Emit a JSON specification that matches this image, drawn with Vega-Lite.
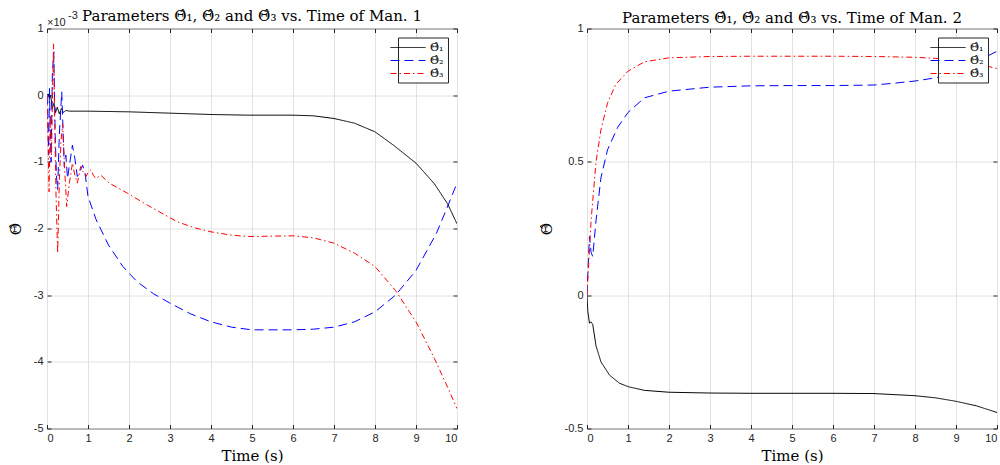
{
  "$schema": "https://vega.github.io/schema/vega-lite/v6.json",
  "autosize": {"type": "pad"},
  "padding": {"left": 7, "top": 7.5, "right": 0, "bottom": 0},
  "spacing": 77,
  "background": "white",
  "config": {
    "view": {"stroke": "#262626", "strokeWidth": 1},
    "axis": {
      "labelFont": "Liberation Sans",
      "labelFontSize": 11,
      "labelColor": "#262626",
      "tickColor": "#262626",
      "tickSize": -4,
      "labelPadding": 8,
      "domain": false,
      "gridColor": "#e2e2e2",
      "gridOpacity": 1,
      "titleFont": "DejaVu Serif",
      "titleFontSize": 15,
      "titleFontWeight": "normal",
      "titleColor": "#000000"
    },
    "title": {"font": "DejaVu Serif", "fontSize": 15, "fontWeight": "normal", "color": "#000000", "offset": 6},
    "legend": {
      "orient": "top-right",
      "offset": 9,
      "padding": 4,
      "fillColor": "white",
      "strokeColor": "#262626",
      "labelFont": "DejaVu Serif",
      "labelFontSize": 11,
      "labelColor": "#000000",
      "symbolType": "M-3.18,0H3.18",
      "symbolSize": 121,
      "symbolStrokeWidth": 1,
      "labelOffset": 16,
      "rowPadding": 2,
      "title": null
    }
  },
  "hconcat": [
    {
      "width": 410,
      "height": 400,
      "title": {"text": "Parameters Θ̂₁, Θ̂₂ and Θ̂₃ vs. Time of Man. 1", "dy": 20},
      "data": {"values": [
        {"t": 0, "v": 0, "s": "Θ̂₁"},
        {"t": 0.03, "v": 0.00002, "s": "Θ̂₁"},
        {"t": 0.06, "v": -0.00005, "s": "Θ̂₁"},
        {"t": 0.09, "v": 0.0, "s": "Θ̂₁"},
        {"t": 0.13, "v": -0.0002, "s": "Θ̂₁"},
        {"t": 0.17, "v": -0.00012, "s": "Θ̂₁"},
        {"t": 0.21, "v": -0.00026, "s": "Θ̂₁"},
        {"t": 0.25, "v": -0.00018, "s": "Θ̂₁"},
        {"t": 0.3, "v": -0.00028, "s": "Θ̂₁"},
        {"t": 0.35, "v": -0.0002, "s": "Θ̂₁"},
        {"t": 0.4, "v": -0.00026, "s": "Θ̂₁"},
        {"t": 0.46, "v": -0.00023, "s": "Θ̂₁"},
        {"t": 0.55, "v": -0.00024, "s": "Θ̂₁"},
        {"t": 1, "v": -0.00024, "s": "Θ̂₁"},
        {"t": 2, "v": -0.00025, "s": "Θ̂₁"},
        {"t": 3, "v": -0.00027, "s": "Θ̂₁"},
        {"t": 4, "v": -0.00029, "s": "Θ̂₁"},
        {"t": 4.9, "v": -0.0003, "s": "Θ̂₁"},
        {"t": 6, "v": -0.0003, "s": "Θ̂₁"},
        {"t": 6.5, "v": -0.00031, "s": "Θ̂₁"},
        {"t": 7, "v": -0.00035, "s": "Θ̂₁"},
        {"t": 7.5, "v": -0.00042, "s": "Θ̂₁"},
        {"t": 8, "v": -0.00055, "s": "Θ̂₁"},
        {"t": 8.45, "v": -0.00075, "s": "Θ̂₁"},
        {"t": 9, "v": -0.00102, "s": "Θ̂₁"},
        {"t": 9.45, "v": -0.00133, "s": "Θ̂₁"},
        {"t": 9.77, "v": -0.00163, "s": "Θ̂₁"},
        {"t": 10, "v": -0.00193, "s": "Θ̂₁"},
        {"t": 0, "v": 0, "s": "Θ̂₂"},
        {"t": 0.02, "v": -0.0003, "s": "Θ̂₂"},
        {"t": 0.04, "v": -0.0009, "s": "Θ̂₂"},
        {"t": 0.06, "v": 0.0001, "s": "Θ̂₂"},
        {"t": 0.08, "v": -0.0005, "s": "Θ̂₂"},
        {"t": 0.1, "v": -0.001, "s": "Θ̂₂"},
        {"t": 0.13, "v": 0.0003, "s": "Θ̂₂"},
        {"t": 0.165, "v": 0.00065, "s": "Θ̂₂"},
        {"t": 0.2, "v": -0.0006, "s": "Θ̂₂"},
        {"t": 0.23, "v": -0.0012, "s": "Θ̂₂"},
        {"t": 0.26, "v": -0.00142, "s": "Θ̂₂"},
        {"t": 0.3, "v": -0.0006, "s": "Θ̂₂"},
        {"t": 0.36, "v": 0.00005, "s": "Θ̂₂"},
        {"t": 0.39, "v": -0.0005, "s": "Θ̂₂"},
        {"t": 0.42, "v": -0.00107, "s": "Θ̂₂"},
        {"t": 0.46, "v": -0.0009, "s": "Θ̂₂"},
        {"t": 0.5, "v": -0.00125, "s": "Θ̂₂"},
        {"t": 0.56, "v": -0.001, "s": "Θ̂₂"},
        {"t": 0.62, "v": -0.00075, "s": "Θ̂₂"},
        {"t": 0.68, "v": -0.00095, "s": "Θ̂₂"},
        {"t": 0.74, "v": -0.00122, "s": "Θ̂₂"},
        {"t": 0.8, "v": -0.00115, "s": "Θ̂₂"},
        {"t": 0.87, "v": -0.00105, "s": "Θ̂₂"},
        {"t": 0.93, "v": -0.00118, "s": "Θ̂₂"},
        {"t": 1, "v": -0.00152, "s": "Θ̂₂"},
        {"t": 1.2, "v": -0.00187, "s": "Θ̂₂"},
        {"t": 1.5, "v": -0.00225, "s": "Θ̂₂"},
        {"t": 1.85, "v": -0.00257, "s": "Θ̂₂"},
        {"t": 2.2, "v": -0.0028, "s": "Θ̂₂"},
        {"t": 2.6, "v": -0.00298, "s": "Θ̂₂"},
        {"t": 3, "v": -0.00312, "s": "Θ̂₂"},
        {"t": 3.5, "v": -0.00328, "s": "Θ̂₂"},
        {"t": 4, "v": -0.0034, "s": "Θ̂₂"},
        {"t": 4.5, "v": -0.00348, "s": "Θ̂₂"},
        {"t": 5, "v": -0.00352, "s": "Θ̂₂"},
        {"t": 6, "v": -0.00352, "s": "Θ̂₂"},
        {"t": 6.5, "v": -0.00351, "s": "Θ̂₂"},
        {"t": 7, "v": -0.00348, "s": "Θ̂₂"},
        {"t": 7.5, "v": -0.0034, "s": "Θ̂₂"},
        {"t": 8, "v": -0.00325, "s": "Θ̂₂"},
        {"t": 8.5, "v": -0.003, "s": "Θ̂₂"},
        {"t": 9, "v": -0.00263, "s": "Θ̂₂"},
        {"t": 9.5, "v": -0.00207, "s": "Θ̂₂"},
        {"t": 9.75, "v": -0.0017, "s": "Θ̂₂"},
        {"t": 10, "v": -0.00132, "s": "Θ̂₂"},
        {"t": 0, "v": 0, "s": "Θ̂₃"},
        {"t": 0.02, "v": -0.0005, "s": "Θ̂₃"},
        {"t": 0.05, "v": -0.00145, "s": "Θ̂₃"},
        {"t": 0.08, "v": -0.0003, "s": "Θ̂₃"},
        {"t": 0.11, "v": -0.0009, "s": "Θ̂₃"},
        {"t": 0.14, "v": 0.0002, "s": "Θ̂₃"},
        {"t": 0.16, "v": 0.00077, "s": "Θ̂₃"},
        {"t": 0.19, "v": -0.0005, "s": "Θ̂₃"},
        {"t": 0.22, "v": -0.0015, "s": "Θ̂₃"},
        {"t": 0.26, "v": -0.00237, "s": "Θ̂₃"},
        {"t": 0.3, "v": -0.0013, "s": "Θ̂₃"},
        {"t": 0.34, "v": -0.0007, "s": "Θ̂₃"},
        {"t": 0.38, "v": -0.00043, "s": "Θ̂₃"},
        {"t": 0.43, "v": -0.0011, "s": "Θ̂₃"},
        {"t": 0.48, "v": -0.00167, "s": "Θ̂₃"},
        {"t": 0.55, "v": -0.0013, "s": "Θ̂₃"},
        {"t": 0.62, "v": -0.00102, "s": "Θ̂₃"},
        {"t": 0.68, "v": -0.0012, "s": "Θ̂₃"},
        {"t": 0.74, "v": -0.00132, "s": "Θ̂₃"},
        {"t": 0.82, "v": -0.00107, "s": "Θ̂₃"},
        {"t": 0.88, "v": -0.00115, "s": "Θ̂₃"},
        {"t": 0.95, "v": -0.00122, "s": "Θ̂₃"},
        {"t": 1.01, "v": -0.00115, "s": "Θ̂₃"},
        {"t": 1.07, "v": -0.00112, "s": "Θ̂₃"},
        {"t": 1.13, "v": -0.0012, "s": "Θ̂₃"},
        {"t": 1.19, "v": -0.00125, "s": "Θ̂₃"},
        {"t": 1.31, "v": -0.0012, "s": "Θ̂₃"},
        {"t": 1.52, "v": -0.00132, "s": "Θ̂₃"},
        {"t": 1.96, "v": -0.00147, "s": "Θ̂₃"},
        {"t": 2.45, "v": -0.00165, "s": "Θ̂₃"},
        {"t": 3.18, "v": -0.0019, "s": "Θ̂₃"},
        {"t": 3.6, "v": -0.00199, "s": "Θ̂₃"},
        {"t": 4, "v": -0.00205, "s": "Θ̂₃"},
        {"t": 4.5, "v": -0.0021, "s": "Θ̂₃"},
        {"t": 4.9, "v": -0.00212, "s": "Θ̂₃"},
        {"t": 6, "v": -0.00211, "s": "Θ̂₃"},
        {"t": 6.5, "v": -0.00214, "s": "Θ̂₃"},
        {"t": 7, "v": -0.00222, "s": "Θ̂₃"},
        {"t": 7.5, "v": -0.00237, "s": "Θ̂₃"},
        {"t": 8, "v": -0.00257, "s": "Θ̂₃"},
        {"t": 8.5, "v": -0.00293, "s": "Θ̂₃"},
        {"t": 9, "v": -0.0034, "s": "Θ̂₃"},
        {"t": 9.45, "v": -0.00395, "s": "Θ̂₃"},
        {"t": 9.77, "v": -0.00438, "s": "Θ̂₃"},
        {"t": 10, "v": -0.0047, "s": "Θ̂₃"}
      ]},
      "layer": [
        {
          "mark": {"type": "line", "strokeWidth": 1, "clip": true},
          "encoding": {
            "x": {"field": "t", "type": "quantitative", "scale": {"domain": [0, 10], "nice": false},
                  "axis": {"title": "Time (s)", "values": [0,1,2,3,4,5,6,7,8,9,10], "titlePadding": 5}},
            "y": {"field": "v", "type": "quantitative", "scale": {"domain": [-0.005, 0.001], "nice": false, "zero": false},
                  "axis": {"title": "Θ̂", "values": [-0.005,-0.004,-0.003,-0.002,-0.001,0,0.001], "labelExpr": "'' + round(datum.value*1000)", "titlePadding": 10}},
            "color": {"field": "s", "type": "nominal", "scale": {"domain": ["Θ̂₁","Θ̂₂","Θ̂₃"], "range": ["#000000","#0000ff","#ff0000"]}},
            "strokeDash": {"field": "s", "type": "nominal", "scale": {"domain": ["Θ̂₁","Θ̂₂","Θ̂₃"], "range": [[1,0],[9,5],[6,3,1.5,3]]}}
          }
        },
        {
          "mark": {"type": "point", "opacity": 0},
          "encoding": {
            "x": {"field": "t", "type": "quantitative", "axis": {"orient": "top", "labels": false, "grid": false, "title": null, "values": [0,1,2,3,4,5,6,7,8,9,10]}},
            "y": {"field": "v", "type": "quantitative", "axis": {"orient": "right", "labels": false, "grid": false, "title": null, "values": [-0.005,-0.004,-0.003,-0.002,-0.001,0,0.001]}}
          }
        },
        {
          "data": {"values": [{"label": "×10", "sup": "-3"}]},
          "layer": [
            {
              "mark": {"type": "text", "align": "left", "baseline": "alphabetic", "dy": -3, "font": "Liberation Sans", "fontSize": 11, "color": "#262626"},
              "encoding": {
                "text": {"field": "label"},
                "x": {"datum": 0, "type": "quantitative", "axis": null},
                "y": {"datum": 0.001, "type": "quantitative", "axis": null}
              }
            },
            {
              "mark": {"type": "text", "align": "left", "baseline": "alphabetic", "dx": 21, "dy": -10, "font": "Liberation Sans", "fontSize": 11, "color": "#262626"},
              "encoding": {
                "text": {"field": "sup"},
                "x": {"datum": 0, "type": "quantitative", "axis": null},
                "y": {"datum": 0.001, "type": "quantitative", "axis": null}
              }
            }
          ]
        }
      ],
      "resolve": {"axis": {"x": "independent", "y": "independent"}}
    },
    {
      "width": 410,
      "height": 400,
      "title": {"text": "Parameters Θ̂₁, Θ̂₂ and Θ̂₃ vs. Time of Man. 2", "dy": 9},
      "data": {"values": [
        {"t": 0, "v": 0, "s": "Θ̂₁"},
        {"t": 0.02, "v": -0.06, "s": "Θ̂₁"},
        {"t": 0.06, "v": -0.105, "s": "Θ̂₁"},
        {"t": 0.1, "v": -0.1, "s": "Θ̂₁"},
        {"t": 0.14, "v": -0.11, "s": "Θ̂₁"},
        {"t": 0.22, "v": -0.19, "s": "Θ̂₁"},
        {"t": 0.34, "v": -0.25, "s": "Θ̂₁"},
        {"t": 0.55, "v": -0.3, "s": "Θ̂₁"},
        {"t": 0.79, "v": -0.33, "s": "Θ̂₁"},
        {"t": 1, "v": -0.343, "s": "Θ̂₁"},
        {"t": 1.4, "v": -0.357, "s": "Θ̂₁"},
        {"t": 2, "v": -0.364, "s": "Θ̂₁"},
        {"t": 3, "v": -0.367, "s": "Θ̂₁"},
        {"t": 4, "v": -0.368, "s": "Θ̂₁"},
        {"t": 5, "v": -0.368, "s": "Θ̂₁"},
        {"t": 6, "v": -0.368, "s": "Θ̂₁"},
        {"t": 7, "v": -0.369, "s": "Θ̂₁"},
        {"t": 8, "v": -0.377, "s": "Θ̂₁"},
        {"t": 8.5, "v": -0.385, "s": "Θ̂₁"},
        {"t": 9, "v": -0.398, "s": "Θ̂₁"},
        {"t": 9.5, "v": -0.415, "s": "Θ̂₁"},
        {"t": 10, "v": -0.44, "s": "Θ̂₁"},
        {"t": 0, "v": 0, "s": "Θ̂₂"},
        {"t": 0.02, "v": 0.08, "s": "Θ̂₂"},
        {"t": 0.06, "v": 0.22, "s": "Θ̂₂"},
        {"t": 0.1, "v": 0.16, "s": "Θ̂₂"},
        {"t": 0.14, "v": 0.145, "s": "Θ̂₂"},
        {"t": 0.22, "v": 0.28, "s": "Θ̂₂"},
        {"t": 0.34, "v": 0.44, "s": "Θ̂₂"},
        {"t": 0.5, "v": 0.545, "s": "Θ̂₂"},
        {"t": 0.75, "v": 0.63, "s": "Θ̂₂"},
        {"t": 1, "v": 0.685, "s": "Θ̂₂"},
        {"t": 1.4, "v": 0.74, "s": "Θ̂₂"},
        {"t": 2, "v": 0.765, "s": "Θ̂₂"},
        {"t": 3, "v": 0.78, "s": "Θ̂₂"},
        {"t": 4, "v": 0.785, "s": "Θ̂₂"},
        {"t": 5, "v": 0.786, "s": "Θ̂₂"},
        {"t": 6, "v": 0.786, "s": "Θ̂₂"},
        {"t": 7, "v": 0.788, "s": "Θ̂₂"},
        {"t": 7.5, "v": 0.795, "s": "Θ̂₂"},
        {"t": 8, "v": 0.803, "s": "Θ̂₂"},
        {"t": 8.5, "v": 0.815, "s": "Θ̂₂"},
        {"t": 9, "v": 0.835, "s": "Θ̂₂"},
        {"t": 9.5, "v": 0.87, "s": "Θ̂₂"},
        {"t": 9.75, "v": 0.895, "s": "Θ̂₂"},
        {"t": 10, "v": 0.915, "s": "Θ̂₂"},
        {"t": 0, "v": 0, "s": "Θ̂₃"},
        {"t": 0.02, "v": 0.06, "s": "Θ̂₃"},
        {"t": 0.1, "v": 0.28, "s": "Θ̂₃"},
        {"t": 0.22, "v": 0.5, "s": "Θ̂₃"},
        {"t": 0.34, "v": 0.62, "s": "Θ̂₃"},
        {"t": 0.5, "v": 0.72, "s": "Θ̂₃"},
        {"t": 0.7, "v": 0.79, "s": "Θ̂₃"},
        {"t": 1, "v": 0.84, "s": "Θ̂₃"},
        {"t": 1.4, "v": 0.875, "s": "Θ̂₃"},
        {"t": 2, "v": 0.89, "s": "Θ̂₃"},
        {"t": 3, "v": 0.895, "s": "Θ̂₃"},
        {"t": 4, "v": 0.896, "s": "Θ̂₃"},
        {"t": 5, "v": 0.896, "s": "Θ̂₃"},
        {"t": 6, "v": 0.896, "s": "Θ̂₃"},
        {"t": 7, "v": 0.895, "s": "Θ̂₃"},
        {"t": 8, "v": 0.892, "s": "Θ̂₃"},
        {"t": 8.5, "v": 0.888, "s": "Θ̂₃"},
        {"t": 9, "v": 0.88, "s": "Θ̂₃"},
        {"t": 9.5, "v": 0.868, "s": "Θ̂₃"},
        {"t": 10, "v": 0.85, "s": "Θ̂₃"}
      ]},
      "layer": [
        {
          "mark": {"type": "line", "strokeWidth": 1, "clip": true},
          "encoding": {
            "x": {"field": "t", "type": "quantitative", "scale": {"domain": [0, 10], "nice": false},
                  "axis": {"title": "Time (s)", "values": [0,1,2,3,4,5,6,7,8,9,10], "titlePadding": 5}},
            "y": {"field": "v", "type": "quantitative", "scale": {"domain": [-0.5, 1], "nice": false, "zero": false},
                  "axis": {"title": "Θ̂", "values": [-0.5, 0, 0.5, 1], "labelExpr": "'' + datum.value", "titlePadding": 10}},
            "color": {"field": "s", "type": "nominal", "scale": {"domain": ["Θ̂₁","Θ̂₂","Θ̂₃"], "range": ["#000000","#0000ff","#ff0000"]}},
            "strokeDash": {"field": "s", "type": "nominal", "scale": {"domain": ["Θ̂₁","Θ̂₂","Θ̂₃"], "range": [[1,0],[9,5],[6,3,1.5,3]]}}
          }
        },
        {
          "mark": {"type": "point", "opacity": 0},
          "encoding": {
            "x": {"field": "t", "type": "quantitative", "axis": {"orient": "top", "labels": false, "grid": false, "title": null, "values": [0,1,2,3,4,5,6,7,8,9,10]}},
            "y": {"field": "v", "type": "quantitative", "axis": {"orient": "right", "labels": false, "grid": false, "title": null, "values": [-0.5, 0, 0.5, 1]}}
          }
        }
      ],
      "resolve": {"axis": {"x": "independent", "y": "independent"}}
    }
  ],
  "resolve": {"scale": {"x": "independent", "y": "independent", "color": "independent", "strokeDash": "independent"}}
}
